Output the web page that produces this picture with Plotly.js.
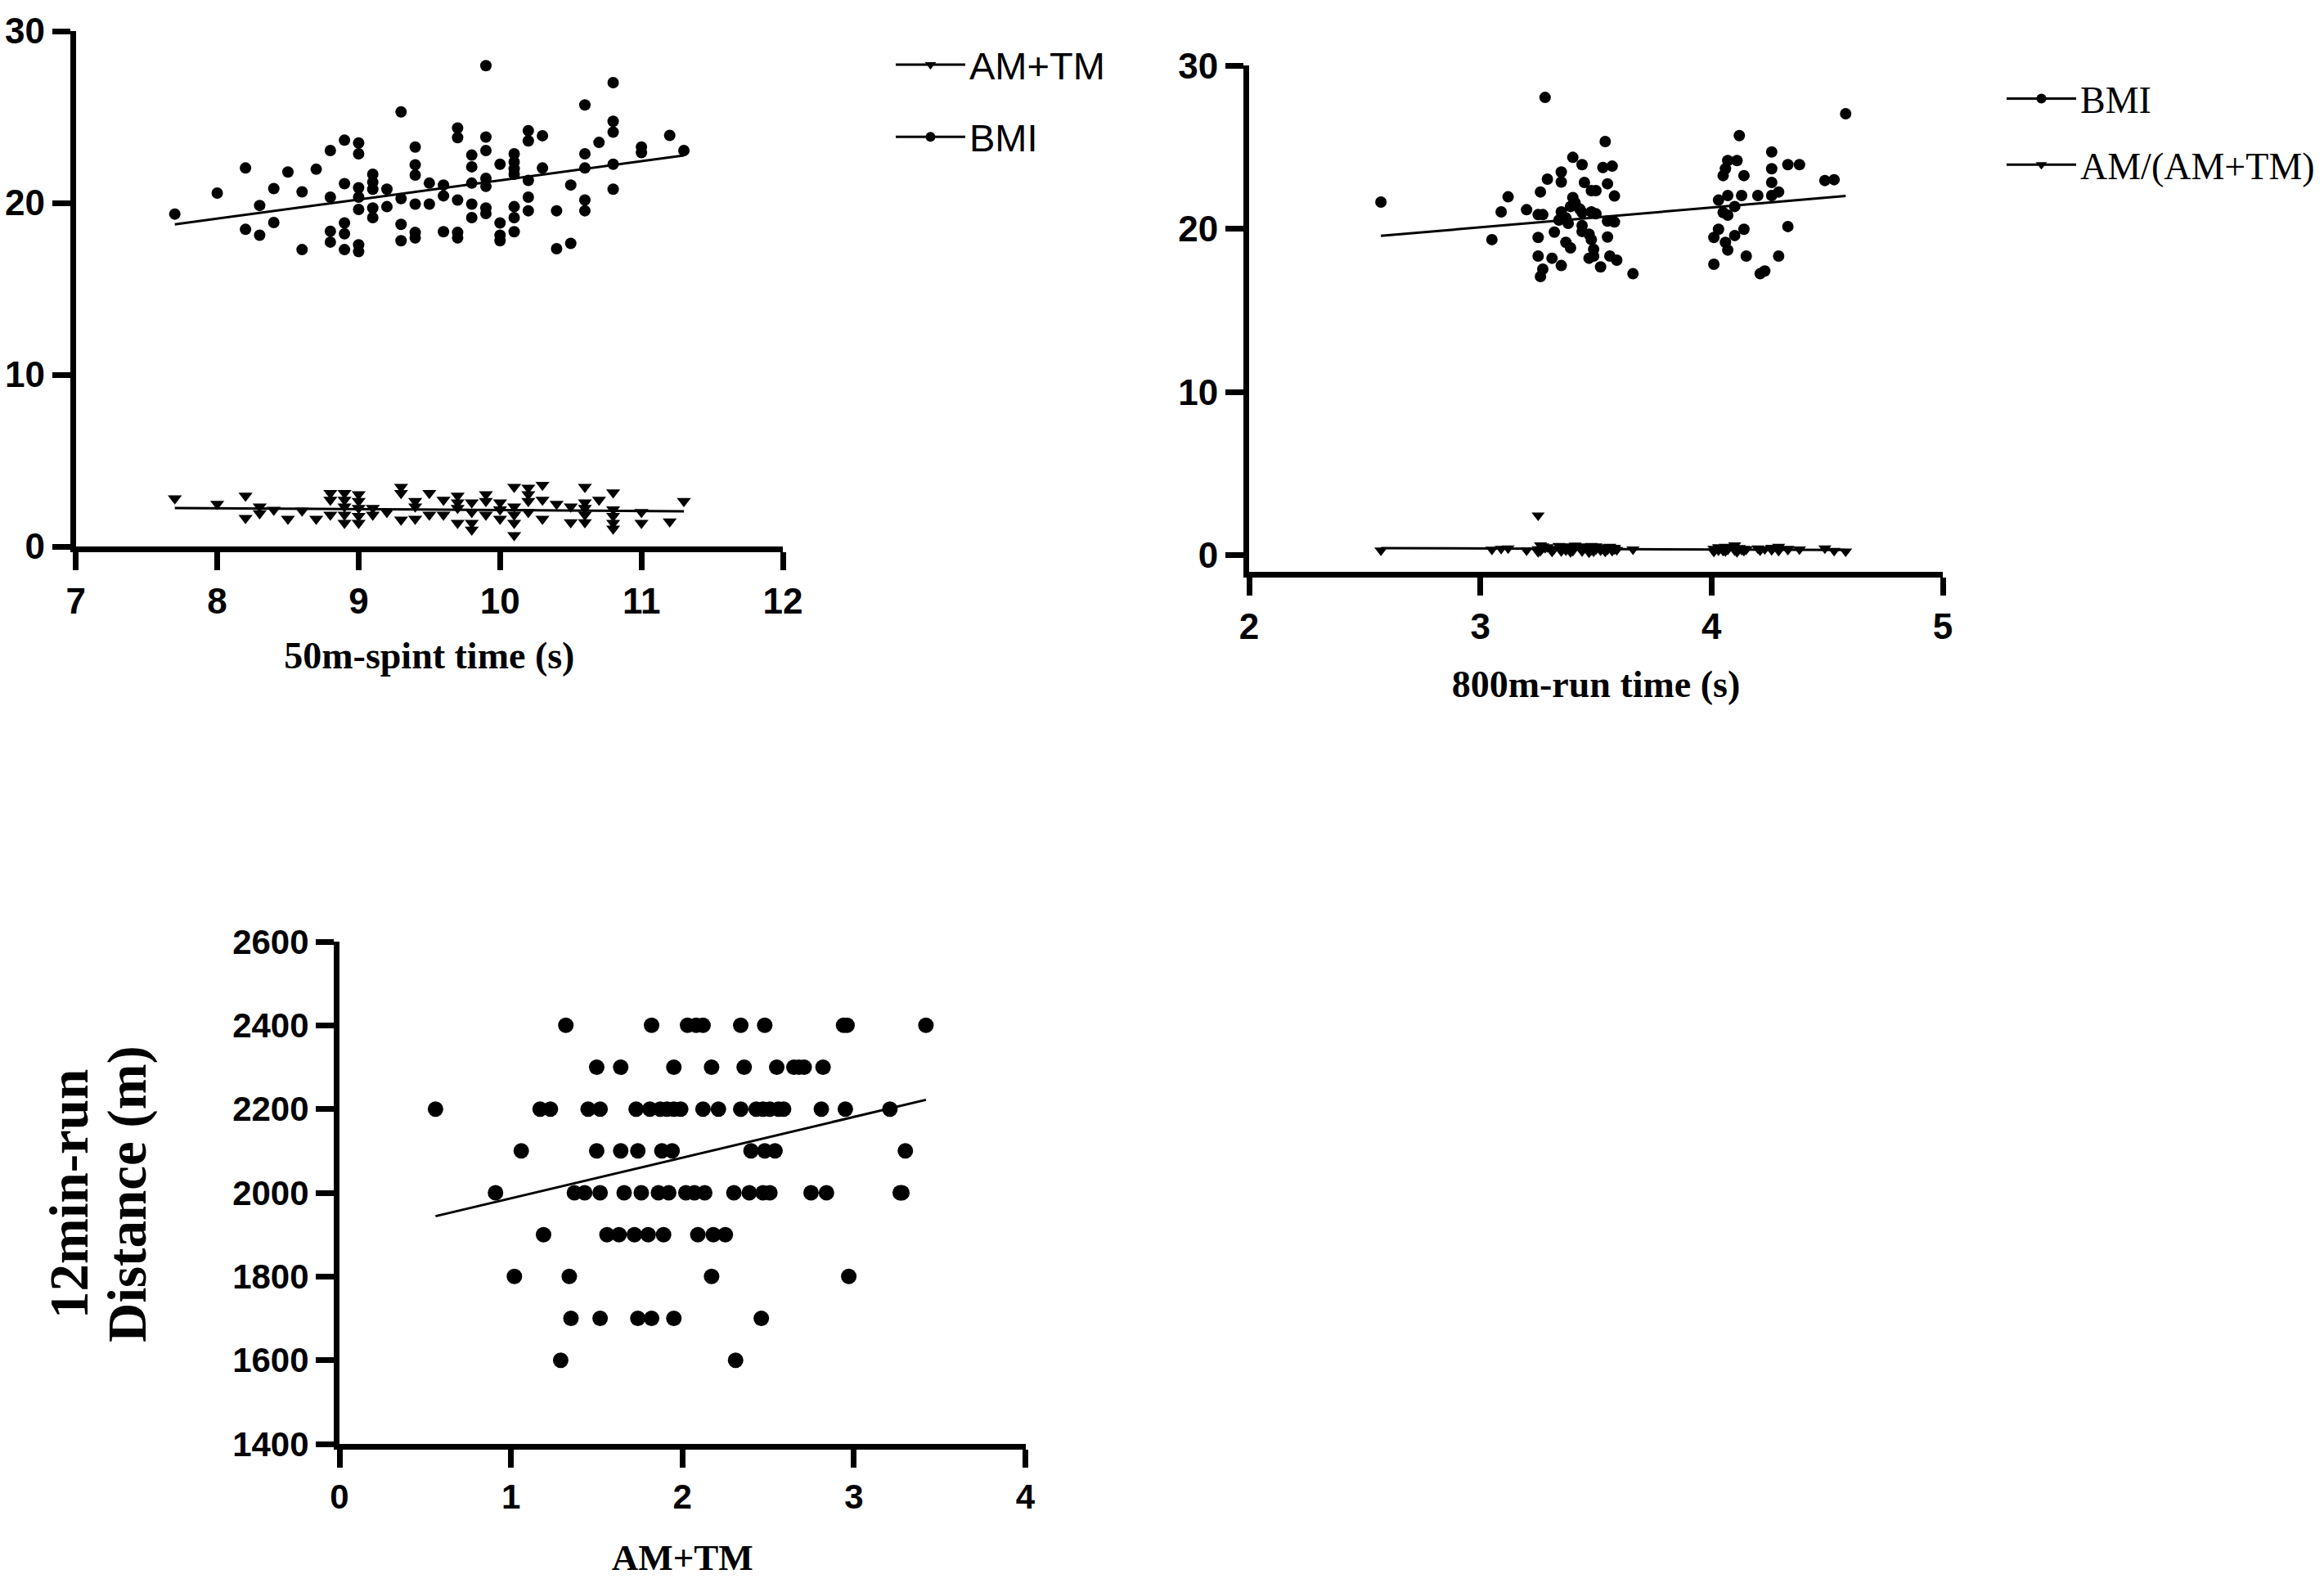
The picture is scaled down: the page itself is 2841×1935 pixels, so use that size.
<!DOCTYPE html>
<html>
<head>
<meta charset="utf-8">
<script src="https://cdn.plot.ly/plotly-3.0.1.min.js"></script>
<style>
  html, body { margin: 0; padding: 0; background: #fff; overflow: hidden; }
  #chart { width: 2841px; height: 1935px; }
</style>
</head>
<body>
<div id="chart"></div>
<script>
// Panel A: 50m sprint time vs BMI and AM+TM
const sprintX = [
  7.7, 8.0, 8.2, 8.2, 8.3, 8.3, 8.4, 8.4, 8.5, 8.6,
  8.6, 8.7, 8.8, 8.8, 8.8, 8.8, 8.9, 8.9, 8.9, 8.9,
  8.9, 9.0, 9.0, 9.0, 9.0, 9.0, 9.0, 9.0, 9.1, 9.1,
  9.1, 9.1, 9.1, 9.2, 9.2, 9.3, 9.3, 9.3, 9.3, 9.4,
  9.4, 9.4, 9.4, 9.4, 9.4, 9.5, 9.5, 9.6, 9.6, 9.6,
  9.7, 9.7, 9.7, 9.7, 9.7, 9.8, 9.8, 9.8, 9.8, 9.8,
  9.9, 9.9, 9.9, 9.9, 9.9, 9.9, 9.9, 10.0, 10.0, 10.0,
  10.0, 10.1, 10.1, 10.1, 10.1, 10.1, 10.1, 10.1, 10.2, 10.2,
  10.2, 10.2, 10.2, 10.3, 10.3, 10.4, 10.4, 10.5, 10.5, 10.6,
  10.6, 10.6, 10.6, 10.6, 10.7, 10.8, 10.8, 10.8, 10.8, 10.8,
  11.0, 11.0, 11.2, 11.3
];
const sprintBMI = [
  19.35, 20.57, 22.03, 18.46, 19.85, 18.12, 20.83, 18.86, 21.80, 20.64,
  17.28, 21.96, 23.05, 20.33, 18.35, 17.72, 23.65, 21.12, 18.83, 18.20,
  17.28, 23.49, 22.86, 20.88, 20.33, 19.62, 17.56, 17.17, 21.67, 21.20,
  20.80, 19.70, 19.14, 20.80, 19.78, 25.30, 20.25, 18.75, 17.80, 23.25,
  22.22, 21.62, 19.93, 18.28, 17.96, 21.15, 19.93, 21.04, 20.41, 18.32,
  24.36, 23.80, 20.17, 18.28, 17.96, 22.78, 22.10, 21.15, 19.93, 19.14,
  27.99, 23.83, 23.05, 21.43, 20.96, 19.70, 19.38, 22.25, 18.83, 18.12,
  17.80, 22.86, 22.38, 21.99, 21.67, 19.78, 19.14, 18.32, 24.20, 23.61,
  21.31, 20.33, 19.54, 23.91, 22.03, 19.54, 17.33, 21.04, 17.64, 25.70,
  22.86, 22.03, 20.17, 19.54, 23.52, 27.00, 24.75, 24.12, 22.25, 20.80,
  23.25, 22.93, 23.93, 23.05
];
const sprintAmX = [
  7.7, 8.0, 8.2, 8.2, 8.3, 8.3, 8.4, 8.5, 8.6, 8.7,
  8.8, 8.8, 8.8, 8.9, 8.9, 8.9, 8.9, 8.9, 9.0, 9.0,
  9.0, 9.0, 9.0, 9.1, 9.1, 9.2, 9.3, 9.3, 9.3, 9.4,
  9.4, 9.4, 9.5, 9.5, 9.6, 9.6, 9.7, 9.7, 9.7, 9.7,
  9.8, 9.8, 9.8, 9.8, 9.9, 9.9, 9.9, 10.0, 10.0, 10.0,
  10.1, 10.1, 10.1, 10.1, 10.1, 10.2, 10.2, 10.2, 10.2, 10.3,
  10.3, 10.3, 10.4, 10.5, 10.5, 10.6, 10.6, 10.6, 10.6, 10.6,
  10.7, 10.8, 10.8, 10.8, 10.8, 10.8, 11.0, 11.0, 11.2, 11.3
];
const sprintAmTm = [
  2.80, 2.48, 2.95, 1.66, 2.32, 1.93, 2.13, 1.61, 2.08, 1.61,
  3.11, 2.72, 1.85, 3.11, 2.72, 2.32, 1.85, 1.37, 3.03, 2.64,
  2.24, 1.77, 1.37, 2.24, 1.85, 2.00, 3.46, 3.11, 1.56, 2.64,
  2.32, 1.61, 3.11, 1.85, 2.72, 1.85, 2.95, 2.56, 2.24, 1.37,
  2.56, 2.00, 1.37, 0.98, 3.03, 2.64, 1.85, 2.56, 2.16, 1.61,
  3.46, 2.32, 1.85, 1.37, 0.66, 3.42, 3.03, 2.64, 2.00, 3.58,
  2.72, 1.61, 2.48, 2.32, 1.40, 3.46, 2.56, 2.24, 1.85, 1.40,
  2.72, 3.14, 2.16, 1.77, 1.37, 1.03, 2.00, 1.37, 1.45, 2.64
];
const sprintFitX   = [7.7, 11.3];
const sprintFitBMI = [18.75, 22.76];
const sprintFitAm  = [2.24, 2.05];

// Panel B: 800m run time vs BMI and AM/(AM+TM)
const runX = [
  2.57, 3.28, 3.05, 3.09, 3.12, 3.20, 3.25, 3.27, 3.25, 3.25,
  3.26, 3.26, 3.27, 3.29, 3.31, 3.32, 3.34, 3.35, 3.35, 3.35,
  3.35, 3.37, 3.37, 3.38, 3.39, 3.39, 3.40, 3.41, 3.40, 3.43,
  3.44, 3.44, 3.44, 3.44, 3.45, 3.47, 3.47, 3.48, 3.48, 3.48,
  3.49, 3.49, 3.50, 3.50, 3.52, 3.53, 3.54, 3.55, 3.55, 3.55,
  3.57, 3.58, 3.58, 3.56, 3.59, 3.66, 4.01, 4.01, 4.03, 4.03,
  4.05, 4.07, 4.05, 4.06, 4.07, 4.06, 4.07, 4.07, 4.10, 4.10,
  4.11, 4.12, 4.13, 4.14, 4.14, 4.15, 4.20, 4.21, 4.23, 4.26,
  4.26, 4.26, 4.26, 4.29, 4.29, 4.33, 4.33, 4.38, 4.49, 4.53,
  4.58
];
const runBMI = [
  21.64, 28.05, 19.34, 21.04, 21.96, 21.17, 20.87, 20.87, 19.47, 18.33,
  22.26, 17.08, 17.53, 23.04, 18.20, 19.80, 20.54, 21.04, 22.87, 23.48,
  17.75, 20.67, 19.17, 20.34, 18.83, 21.37, 21.92, 21.59, 24.38, 21.21,
  21.00, 23.93, 20.20, 19.84, 22.84, 18.20, 19.67, 19.34, 21.04, 22.34,
  18.75, 18.33, 22.34, 20.92, 17.67, 23.76, 25.35, 19.50, 20.47, 22.76,
  23.84, 20.42, 22.01, 18.33, 18.08, 17.25, 17.83, 19.47, 19.97, 21.76,
  21.00, 20.84, 23.26, 23.68, 24.18, 19.17, 18.70, 22.04, 21.37, 19.59,
  24.18, 25.71, 22.04, 23.26, 19.97, 18.33, 22.04, 17.25, 17.42, 22.04,
  22.84, 23.68, 24.71, 18.33, 22.26, 23.93, 20.14, 23.93, 22.96, 23.01,
  27.05
];
const runRatio = [
  0.30, 0.45, 0.35, 0.40, 0.42, 0.30, 2.44, 0.55, 0.20, 0.38,
  0.62, 0.28, 0.45, 0.50, 0.22, 0.40, 0.58, 0.35, 0.48, 0.25,
  0.42, 0.55, 0.30, 0.45, 0.20, 0.52, 0.38, 0.60, 0.28, 0.46,
  0.33, 0.55, 0.25, 0.40, 0.50, 0.18, 0.44, 0.32, 0.58, 0.40,
  0.24, 0.48, 0.36, 0.55, 0.30, 0.45, 0.22, 0.50, 0.35, 0.42,
  0.28, 0.46, 0.38, 0.52, 0.33, 0.36, 0.40, 0.22, 0.50, 0.30,
  0.45, 0.35, 0.28, 0.52, 0.42, 0.25, 0.38, 0.48, 0.30, 0.62,
  0.20, 0.45, 0.34, 0.40, 0.28, 0.36, 0.42, 0.30, 0.38, 0.46,
  0.32, 0.40, 0.35, 0.52, 0.28, 0.40, 0.34, 0.36, 0.42, 0.28,
  0.24
];
const runFitX     = [2.57, 4.58];
const runFitBMI   = [19.57, 22.01];
const runFitRatio = [0.44, 0.32];

// Panel C: AM+TM vs 12 min run distance
const distX = [
  1.32, 1.82, 2.03, 2.08, 2.12, 2.34, 2.48, 2.94, 2.96, 3.42,
  1.50, 1.64, 1.95, 2.17, 2.36, 2.55, 2.65, 2.68, 2.71, 2.82,
  0.56, 1.17, 1.23, 1.45, 1.52, 1.73, 1.81, 1.87, 1.91, 1.95, 1.99,
  2.12, 2.21, 2.34, 2.43, 2.47, 2.51, 2.56, 2.59, 2.81, 2.95, 3.21,
  1.06, 1.50, 1.64, 1.74, 1.88, 1.94, 2.40, 2.48, 2.54, 3.30,
  0.91, 1.37, 1.43, 1.52, 1.66, 1.76, 1.86, 1.92, 2.02, 2.07,
  2.13, 2.30, 2.39, 2.47, 2.51, 2.75, 2.84, 3.27, 3.28,
  1.19, 1.56, 1.63, 1.72, 1.80, 1.89, 2.09, 2.18, 2.25,
  1.02, 1.34, 2.17, 2.97,
  1.35, 1.52, 1.74, 1.82, 1.95, 2.46,
  1.29, 2.31
];
const distY = [
  2400, 2400, 2400, 2400, 2400, 2400, 2400, 2400, 2400, 2400,
  2300, 2300, 2300, 2300, 2300, 2300, 2300, 2300, 2300, 2300,
  2200, 2200, 2200, 2200, 2200, 2200, 2200, 2200, 2200, 2200, 2200,
  2200, 2200, 2200, 2200, 2200, 2200, 2200, 2200, 2200, 2200, 2200,
  2100, 2100, 2100, 2100, 2100, 2100, 2100, 2100, 2100, 2100,
  2000, 2000, 2000, 2000, 2000, 2000, 2000, 2000, 2000, 2000,
  2000, 2000, 2000, 2000, 2000, 2000, 2000, 2000, 2000,
  1900, 1900, 1900, 1900, 1900, 1900, 1900, 1900, 1900,
  1800, 1800, 1800, 1800,
  1700, 1700, 1700, 1700, 1700, 1700,
  1600, 1600
];
const distFitX = [0.56, 3.42];
const distFitY = [1944, 2222];
const distTitleLines = ['12min-run', 'Distance (m)'];

const BLACK = '#000000';
const SANS  = 'Liberation Sans, Arial, Helvetica, sans-serif';
const SERIF = 'Liberation Serif, Times New Roman, serif';

function axisStyle(extra) {
  return Object.assign({
    showline: true, linecolor: BLACK, linewidth: 7,
    ticks: 'outside', ticklen: 22, tickwidth: 7, tickcolor: BLACK,
    showgrid: false, zeroline: false, fixedrange: true,
    tickfont: { family: SANS, size: 44, color: BLACK, weight: 'bold' }
  }, extra);
}

function titleFont(size) {
  return { family: SERIF, size: size, color: BLACK, weight: 'bold' };
}

const pts  = (x, y, xa, ya, symbol, size) => ({
  x, y, xaxis: xa, yaxis: ya, type: 'scatter', mode: 'markers', showlegend: false,
  marker: { color: BLACK, size: size, symbol: symbol }, hoverinfo: 'skip'
});
const fit  = (x, y, xa, ya) => ({
  x, y, xaxis: xa, yaxis: ya, type: 'scatter', mode: 'lines', showlegend: false,
  line: { color: BLACK, width: 3 }, hoverinfo: 'skip'
});
// legend-only entries (line with marker, like the original key)
const key  = (name, symbol, legend, xa, ya, group) => ({
  x: [null], y: [null], xaxis: xa, yaxis: ya, type: 'scatter', mode: 'lines+markers',
  name, legend, legendgroup: group,
  line: { color: BLACK, width: 3 }, marker: { color: BLACK, size: 12, symbol: symbol }
});

const traces = [
  pts(sprintX, sprintBMI, 'x', 'y', 'circle', 14),
  pts(sprintAmX, sprintAmTm, 'x', 'y', 'triangle-down', 15),
  fit(sprintFitX, sprintFitBMI, 'x', 'y'),
  fit(sprintFitX, sprintFitAm, 'x', 'y'),
  key('AM+TM', 'triangle-down', 'legend', 'x', 'y', 'a1'),
  key('BMI', 'circle', 'legend', 'x', 'y', 'a2'),

  pts(runX, runBMI, 'x2', 'y2', 'circle', 14),
  pts(runX, runRatio, 'x2', 'y2', 'triangle-down', 14),
  fit(runFitX, runFitBMI, 'x2', 'y2'),
  fit(runFitX, runFitRatio, 'x2', 'y2'),
  key('BMI', 'circle', 'legend2', 'x2', 'y2', 'b1'),
  key('AM/(AM+TM)', 'triangle-down', 'legend2', 'x2', 'y2', 'b2'),

  pts(distX, distY, 'x3', 'y3', 'circle', 19),
  fit(distFitX, distFitY, 'x3', 'y3')
];

const W = 2841, H = 1935;

const layout = {
  width: W, height: H,
  margin: { l: 0, r: 0, t: 0, b: 0, autoexpand: false },
  paper_bgcolor: '#ffffff', plot_bgcolor: '#ffffff',
  font: { family: SANS, color: BLACK },

  xaxis: axisStyle({ domain: [92.7 / W, 957 / W], range: [7, 12], dtick: 1, anchor: 'y',
    title: { text: '50m-spint time (s)', font: titleFont(46), standoff: 30 } }),
  yaxis: axisStyle({ domain: [1 - 668 / H, 1 - 38 / H], range: [0, 30], dtick: 10, anchor: 'x' }),

  xaxis2: axisStyle({ domain: [1527 / W, 2375 / W], range: [2, 5], dtick: 1, anchor: 'y2',
    title: { text: '800m-run time (s)', font: titleFont(46), standoff: 34 } }),
  yaxis2: axisStyle({ domain: [1 - 698.7 / H, 1 - 80.2 / H], range: [-1, 30],
    tickvals: [0, 10, 20, 30], anchor: 'x2' }),

  xaxis3: axisStyle({ domain: [415 / W, 1253.5 / W], range: [0, 4], dtick: 1, anchor: 'y3',
    title: { text: 'AM+TM', font: titleFont(45), standoff: 38 },
    tickfont: { family: SANS, size: 42, color: BLACK, weight: 'bold' } }),
  yaxis3: axisStyle({ domain: [1 - 1765 / H, 1 - 1151 / H], range: [1400, 2600], dtick: 200, anchor: 'x3',
    tickfont: { family: SANS, size: 42, color: BLACK, weight: 'bold' } }),

  // two-line rotated y title of panel C, placed like the original
  annotations: distTitleLines.map((t, i) => ({
    text: t, textangle: -90, showarrow: false,
    xref: 'paper', yref: 'paper', x: [84 / W, 155 / W][i], y: 1 - 1460 / H,
    xanchor: 'center', yanchor: 'middle',
    font: { family: SERIF, size: 67, color: BLACK, weight: 'bold' }
  })),

  legend: {
    x: 1090 / W, xanchor: 'left', y: 1 - 42 / H, yanchor: 'top',
    bgcolor: 'rgba(0,0,0,0)', borderwidth: 0, itemwidth: 85,
    traceorder: 'grouped', tracegroupgap: 24,
    font: { family: SANS, size: 47, color: BLACK }
  },
  legend2: {
    x: 2448 / W, xanchor: 'left', y: 1 - 84 / H, yanchor: 'top',
    bgcolor: 'rgba(0,0,0,0)', borderwidth: 0, itemwidth: 85,
    traceorder: 'grouped', tracegroupgap: 18,
    font: { family: SERIF, size: 46, color: BLACK }
  }
};

Plotly.newPlot('chart', traces, layout, { staticPlot: true, displayModeBar: false });
</script>
</body>
</html>
